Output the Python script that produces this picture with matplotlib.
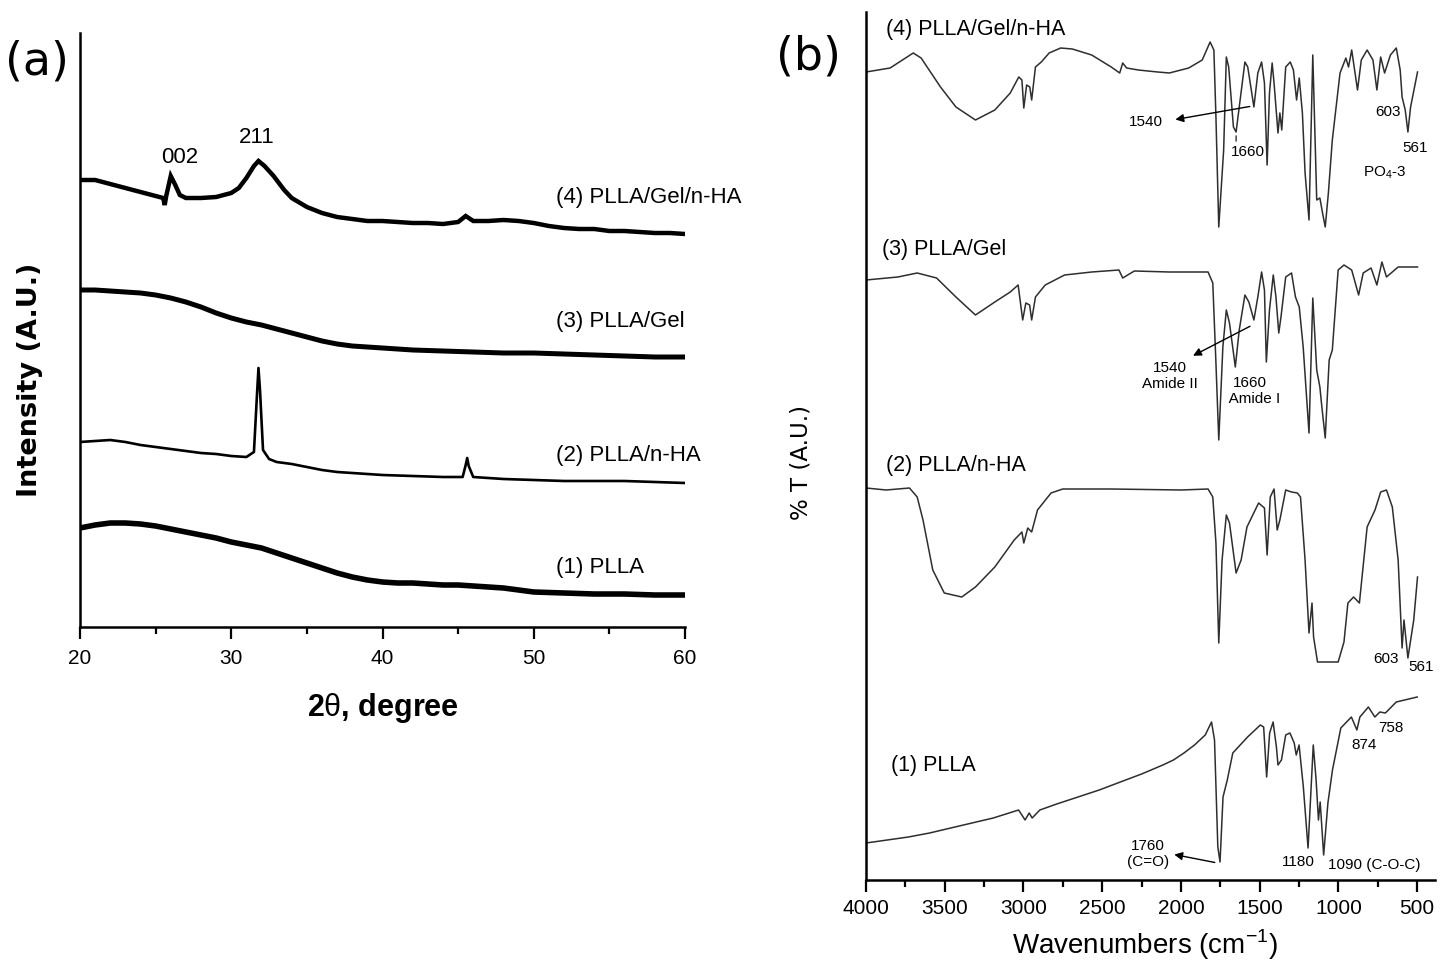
import numpy as np
import matplotlib
matplotlib.use("Agg")
import matplotlib.pyplot as plt

plt.rcParams['font.family'] = ['Liberation Sans', 'DejaVu Sans']
plt.rcParams['mathtext.fontset'] = 'custom'
plt.rcParams['mathtext.rm'] = 'Liberation Sans'

# ---------------- XRD data, panel (a) ----------------
xrd_x4 = [20, 21, 22, 23, 24, 25, 25.5, 25.6, 25.7, 26.0, 26.3, 26.6, 27, 28, 29, 30,
          30.5, 31, 31.5, 31.8, 32.2, 32.8, 33.5, 34, 35, 36, 37, 38, 39, 40, 41, 42,
          43, 44, 45, 45.5, 46, 47, 48, 49, 50, 51, 52, 53, 54, 55, 56, 57, 58, 59, 60]
xrd_y4 = [447, 447, 443, 439, 435, 431, 429, 422, 431, 451, 442, 432, 429, 429, 430, 434,
          439, 449, 461, 466, 461, 451, 437, 429, 420, 414, 410, 408, 406, 406, 405, 404,
          404, 403, 405, 411, 406, 406, 407, 406, 404, 401, 399, 398, 398, 396, 396, 395,
          394, 394, 393]

xrd_x3 = [20, 21, 22, 23, 24, 25, 26, 27, 28, 29, 30, 31, 32, 33, 34, 35, 36, 37, 38, 39,
          40, 42, 44, 46, 48, 50, 52, 54, 56, 58, 60]
xrd_y3 = [337, 337, 336, 335, 334, 332, 329, 325, 320, 314, 309, 305, 302, 298, 294, 290,
          286, 283, 281, 280, 279, 277, 276, 275, 274, 274, 273, 272, 271, 270, 270]

xrd_x2 = [20, 21, 22, 23, 24, 25, 26, 27, 28, 29, 30, 31, 31.5, 31.7, 31.8, 31.9, 32.1,
          32.5, 33, 34, 35, 36, 37, 38, 39, 40, 42, 44, 45.3, 45.5, 45.6, 45.7, 46, 48,
          50, 52, 54, 56, 58, 60]
xrd_y2 = [185, 186, 187, 185, 182, 180, 178, 176, 174, 173, 171, 170, 175, 232, 259, 237,
          177, 168, 165, 163, 160, 157, 155, 154, 153, 152, 151, 150, 150, 162, 169, 161,
          150, 148, 147, 146, 146, 146, 145, 144]

xrd_x1 = [20, 21, 22, 23, 24, 25, 26, 27, 28, 29, 30, 31, 32, 33, 34, 35, 36, 37, 38, 39,
          40, 41, 42, 43, 44, 45, 46, 47, 48, 49, 50, 52, 54, 56, 58, 60]
xrd_y1 = [99, 102, 104, 104, 103, 101, 98, 95, 92, 89, 85, 82, 79, 74, 69, 64, 59, 54, 50,
          47, 45, 44, 44, 43, 42, 42, 41, 40, 39, 37, 35, 34, 33, 33, 32, 32]

xrd_names = ['(4) PLLA/Gel/n-HA', '(3) PLLA/Gel', '(2) PLLA/n-HA', '(1) PLLA']

# ---------------- FTIR data, panel (b) ----------------
ir_w4 = [4000, 3847, 3700, 3650, 3527, 3429, 3305, 3182, 3084, 3030, 3010, 2998, 2980, 2960,
         2948, 2924, 2887, 2837, 2764, 2690, 2567, 2443, 2389, 2370, 2345, 2271, 2148, 2074,
         1951, 1865, 1815, 1791, 1778, 1760, 1729, 1712, 1697, 1667, 1650, 1630, 1594, 1576,
         1537, 1512, 1488, 1470, 1453, 1438, 1421, 1409, 1384, 1372, 1360, 1335, 1306, 1286,
         1266, 1249, 1229, 1212, 1187, 1163, 1138, 1118, 1101, 1084, 1064, 1039, 990, 953,
         936, 916, 879, 855, 818, 781, 756, 732, 707, 670, 633, 608, 596, 576, 559, 542, 498]
ir_t4 = [808, 812, 827, 822, 793, 773, 760, 770, 787, 803, 800, 772, 795, 793,
         780, 813, 818, 827, 832, 831, 825, 813, 807, 817, 812, 810, 808, 807,
         812, 820, 838, 830, 763, 653, 730, 823, 813, 753, 748, 773, 818, 813,
         773, 807, 818, 797, 715, 787, 817, 797, 747, 767, 750, 813, 818, 810,
         780, 802, 767, 707, 660, 825, 680, 682, 667, 653, 687, 740, 807, 822,
         813, 830, 790, 820, 830, 820, 790, 823, 807, 825, 832, 810, 783, 770, 748, 773, 808]

ir_w3 = [4000, 3798, 3675, 3552, 3429, 3305, 3182, 3084, 3034, 3005, 2985, 2961, 2948, 2924,
         2862, 2739, 2567, 2394, 2370, 2296, 2074, 1828, 1798, 1778, 1760, 1734, 1712, 1692,
         1655, 1630, 1594, 1569, 1537, 1512, 1488, 1470, 1458, 1438, 1414, 1397, 1379, 1365,
         1335, 1298, 1273, 1249, 1224, 1187, 1163, 1138, 1118, 1108, 1084, 1059, 1039, 1002,
         965, 916, 872, 843, 793, 756, 724, 695, 621, 498]
ir_t3 = [600, 603, 607, 602, 583, 565, 578, 588, 595, 560, 577, 575, 560, 583,
         595, 605, 608, 610, 602, 609, 608, 608, 597, 517, 440, 533, 570, 557,
         513, 550, 585, 578, 560, 583, 608, 590, 518, 570, 605, 583, 547, 563,
         603, 607, 583, 573, 533, 447, 582, 510, 493, 477, 442, 520, 530, 610,
         615, 610, 585, 607, 612, 595, 618, 603, 613, 613]

ir_w2 = [4000, 3872, 3724, 3675, 3638, 3576, 3503, 3392, 3305, 3182, 3059, 3010, 2998, 2973,
         2948, 2911, 2825, 2751, 2443, 1999, 1828, 1798, 1778, 1760, 1739, 1712, 1692, 1650,
         1618, 1581, 1507, 1470, 1453, 1433, 1409, 1389, 1372, 1335, 1298, 1261, 1241, 1212,
         1187, 1168, 1158, 1133, 1002, 965, 940, 904, 867, 818, 768, 732, 695, 658, 621, 596,
         584, 559, 522, 498]
ir_t2 = [392, 390, 392, 383, 360, 310, 287, 283, 293, 313, 340, 348, 337, 352,
         348, 370, 387, 391, 391, 390, 391, 383, 337, 237, 320, 365, 357, 307,
         320, 353, 377, 372, 325, 383, 391, 350, 360, 390, 388, 387, 383, 320,
         247, 277, 243, 218, 218, 238, 277, 283, 277, 353, 370, 388, 390, 373, 320, 232,
         260, 222, 260, 303]

ir_w1 = [4000, 3865, 3731, 3596, 3462, 3327, 3192, 3031, 2990, 2964, 2945, 2896, 2789, 2654,
         2519, 2385, 2250, 2115, 2048, 1981, 1914, 1846, 1806, 1787, 1766, 1752, 1733, 1706,
         1671, 1577, 1496, 1475, 1456, 1437, 1415, 1394, 1384, 1362, 1335, 1308, 1281, 1268,
         1250, 1223, 1193, 1160, 1142, 1127, 1116, 1094, 1067, 1038, 985, 918, 883, 864, 810,
         769, 737, 702, 633, 500]
ir_t1 = [37, 40, 43, 47, 52, 57, 62, 70, 60, 67, 62, 70, 76, 83,
         90, 98, 106, 115, 120, 127, 135, 145, 158, 140, 33, 18, 83, 100,
         127, 143, 155, 153, 103, 147, 158, 133, 115, 120, 145, 147, 137, 125,
         135, 93, 32, 135, 100, 60, 78, 25, 77, 110, 152, 163, 150, 163, 173,
         163, 168, 167, 178, 183]

ir_names = ['(4) PLLA/Gel/n-HA', '(3) PLLA/Gel', '(2) PLLA/n-HA', '(1) PLLA']

# ---------------- figure ----------------
fig = plt.figure(figsize=(14.5, 9.72), dpi=100)
W, H = 1450.0, 972.0

def frame(ax):
    for s in ['top', 'right']:
        ax.spines[s].set_visible(False)
    ax.spines['left'].set_linewidth(1.8)
    ax.spines['bottom'].set_linewidth(1.8)
    ax.tick_params(axis='x', which='major', direction='out', length=8.5, width=1.6,
                   labelsize=15, pad=5)
    ax.tick_params(axis='x', which='minor', direction='out', length=5, width=1.6)
    ax.tick_params(axis='y', which='both', left=False, labelleft=False)

# panel (a)
axa = fig.add_axes([80 / W, 1 - 627 / H, 605 / W, 594 / H])
frame(axa)
axa.set_xlim(20, 60)
axa.set_ylim(0, 594)
axa.set_xticks([20, 30, 40, 50, 60])
axa.set_xticks([25, 35, 45, 55], minor=True)
axa.tick_params(axis='x', pad=7)

axa.plot(xrd_x4, xrd_y4, color='black', lw=3.2, solid_joinstyle='miter')
axa.plot(xrd_x3, xrd_y3, color='black', lw=3.6)
axa.plot(xrd_x2, xrd_y2, color='black', lw=1.9)
axa.plot(xrd_x1, xrd_y1, color='black', lw=4.0)

for name, yy in zip(xrd_names, [429, 305, 172, 60]):
    axa.text(51.5, yy, name, fontsize=16, ha='left', va='center')
axa.text(26.6, 469, '002', fontsize=16, ha='center', va='center')
axa.text(31.7, 489, '211', fontsize=16, ha='center', va='center')

fig.text(37 / W, 1 - 62 / H, '(a)', fontsize=33, family='DejaVu Sans',
         ha='center', va='center')
fig.text(383 / W, 1 - 708 / H, r'2$\mathrm{\theta}$, degree', fontsize=22,
         fontweight='bold', ha='center', va='center')
fig.text(30 / W, 1 - 380 / H, 'Intensity (A.U.)', fontsize=19.5, fontweight='bold',
         family='DejaVu Sans', rotation=90, ha='center', va='center')

# panel (b)
axb = fig.add_axes([866 / W, 1 - 880 / H, 569 / W, 868 / H])
frame(axb)
axb.set_xlim(4000, 387)
axb.set_ylim(0, 868)
axb.set_xticks([4000, 3500, 3000, 2500, 2000, 1500, 1000, 500])
axb.set_xticks([3750, 3250, 2750, 2250, 1750, 1250, 750], minor=True)

gray = '#2e2e2e'
axb.plot(ir_w4, ir_t4, color=gray, lw=1.1)
axb.plot(ir_w3, ir_t3, color=gray, lw=1.1)
axb.plot(ir_w2, ir_t2, color=gray, lw=1.1)
axb.plot(ir_w1, ir_t1, color=gray, lw=1.1)

for name, (wx, ty) in zip(ir_names, [(3873, 850), (3899, 630), (3873, 415), (3841, 115)]):
    axb.text(wx, ty, name, fontsize=15.5, ha='left', va='center')

small = 11
arrow = dict(arrowstyle='-|>', color='black', lw=1.0, mutation_scale=12)
# curve 4 marks
axb.annotate('', xy=(2053, 760), xytext=(1546, 774), arrowprops=arrow)
axb.text(2224, 758, '1540', fontsize=small, ha='center', va='center')
axb.annotate('', xy=(1650, 736), xytext=(1650, 747),
             arrowprops=dict(arrowstyle='-', color='black', lw=0.8))
axb.text(1578, 728, '1660', fontsize=small, ha='center', va='center')
axb.text(683, 768, '603', fontsize=small, ha='center', va='center')
axb.text(512, 732, '561', fontsize=small, ha='center', va='center')
axb.text(709, 707, r'PO$_4$-3', fontsize=small, ha='center', va='center')
# curve 3 marks
axb.annotate('', xy=(1939, 523), xytext=(1546, 555), arrowprops=arrow)
axb.text(2072, 504, '1540\nAmide II', fontsize=small, ha='center', va='center',
         linespacing=1.2)
axb.text(1560, 489, '1660\n  Amide I', fontsize=small, ha='center', va='center',
         linespacing=1.2)
# curve 2 marks
axb.text(696, 221, '603', fontsize=small, ha='center', va='center')
axb.text(474, 213, '561', fontsize=small, ha='center', va='center')
# curve 1 marks
axb.annotate('', xy=(2060, 26), xytext=(1768, 17), arrowprops=arrow)
axb.text(2212, 26, '1760\n(C=O)', fontsize=small, ha='center', va='center',
         linespacing=1.2)
axb.text(1254, 18, '1180', fontsize=small, ha='center', va='center')
axb.text(1064, 15, '1090 (C-O-C)', fontsize=small, ha='left', va='center')
axb.text(836, 135, '874', fontsize=small, ha='center', va='center')
axb.text(665, 152, '758', fontsize=small, ha='center', va='center')

fig.text(808 / W, 1 - 57 / H, '(b)', fontsize=33, family='DejaVu Sans',
         ha='center', va='center')
fig.text(1145 / W, 1 - 945 / H, r'Wavenumbers (cm$^{-1}$)', fontsize=20,
         ha='center', va='center')
fig.text(801 / W, 1 - 462 / H, '% T (A.U.)', fontsize=16.5, family='DejaVu Sans',
         rotation=90, ha='center', va='center')

fig.savefig('out.png', dpi=100, facecolor='white')
